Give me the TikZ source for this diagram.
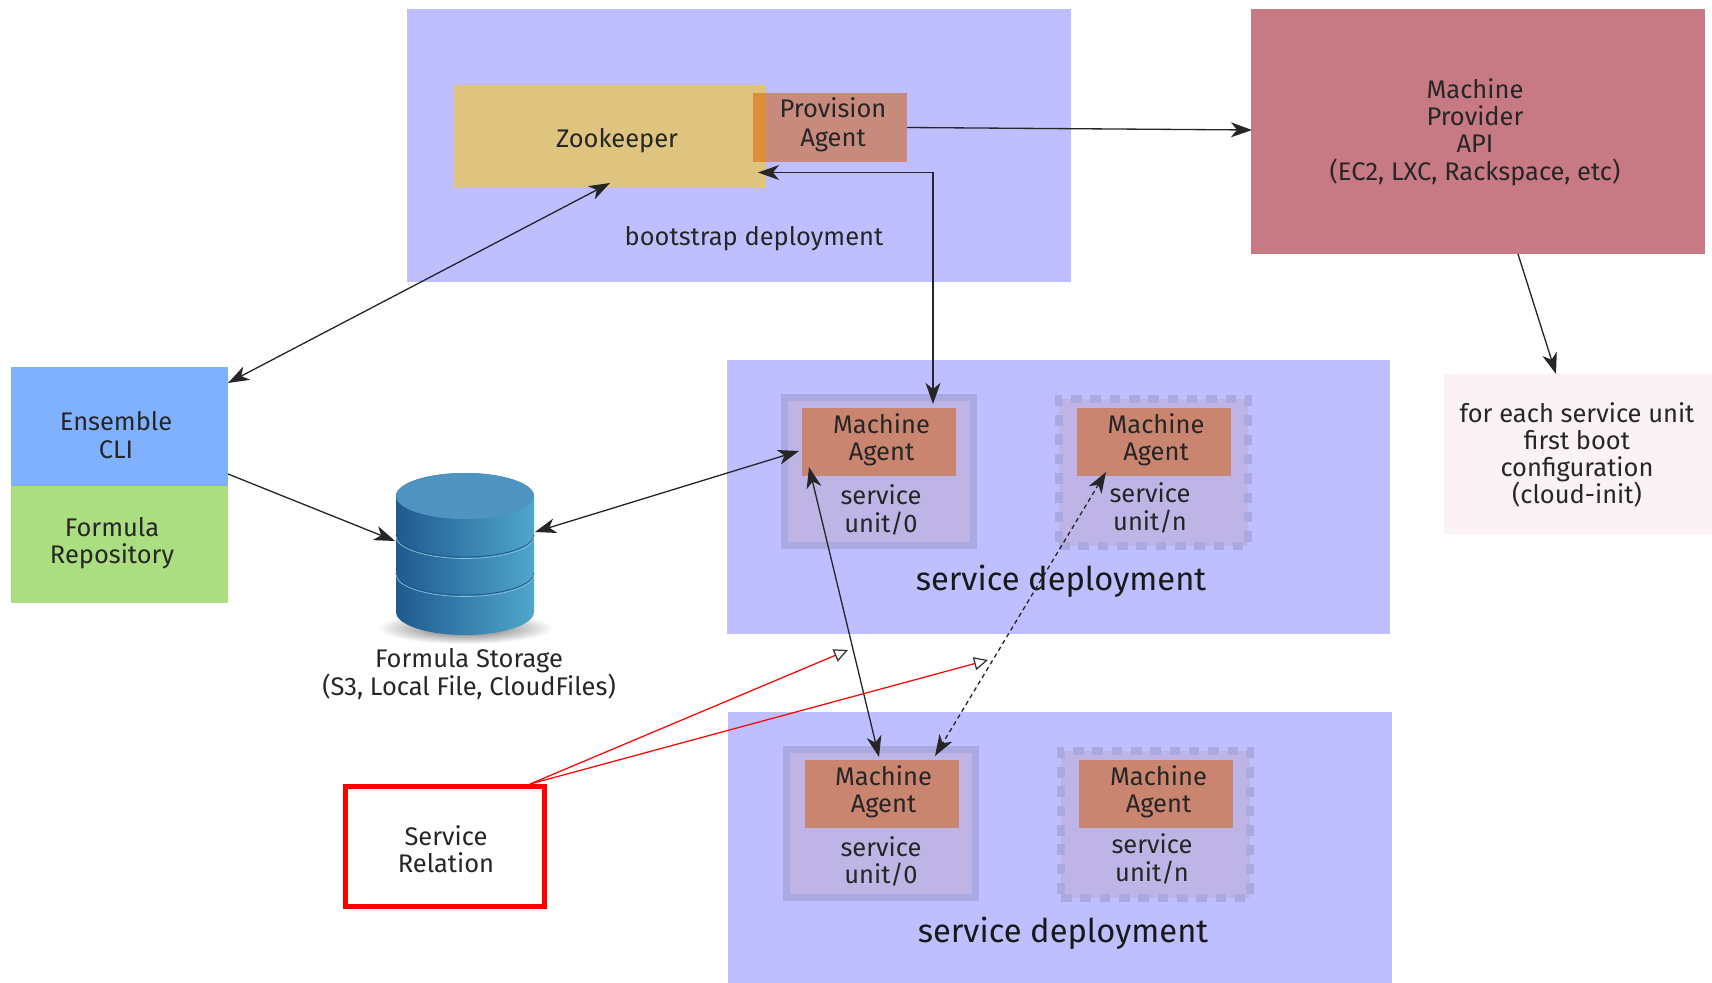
\documentclass[tikz,border=0pt]{standalone}
\usepackage{fontspec}
\setmainfont{Fira Sans}
\usetikzlibrary{arrows.meta}
\definecolor{deploybg}{HTML}{BFBFFF}
\definecolor{zoofill}{HTML}{DFC47F}
\definecolor{provfill}{HTML}{C98A7E}
\definecolor{overlapfill}{HTML}{DC8E3A}
\definecolor{apifill}{HTML}{C87A84}
\definecolor{agentfill}{HTML}{C98570}
\definecolor{unitfill}{HTML}{BEB5E6}
\definecolor{unitedge}{HTML}{ABA9E1}
\definecolor{clifill}{HTML}{80B1FF}
\definecolor{repofill}{HTML}{ABDE80}
\definecolor{bootfill}{HTML}{FAF2F4}
\definecolor{drumdark}{HTML}{1F5A8F}
\definecolor{drumlight}{HTML}{4FA6CB}
\definecolor{drumtop}{HTML}{4F93C0}
\tikzset{
  sizedbox/.style 2 args={inner sep=0pt,outer sep=0pt,minimum width=#1*0.02cm,minimum height=#2*0.02cm},
  tag/.style={align=center,text=black!85,font=\fontsize{14.5}{15.5}\selectfont},
  bigtag/.style={align=center,text=black!90,font=\fontsize{18.6}{21}\selectfont},
  flow/.style={line width=0.75pt,black!85,>={Stealth[length=12pt,width=8.5pt,inset=3.5pt]}},
  relation/.style={line width=0.7pt,red,-{Triangle[open,length=8pt,width=7.5pt,color=black!80,fill=white]}},
  unitsolid/.style={sizedbox={189}{148},draw=unitedge,fill=unitfill,line width=4pt},
  unitdashed/.style={sizedbox={189}{147},draw=unitedge,fill=unitfill,line width=4pt,dash pattern=on 6pt off 5pt}
}
\begin{document}
\begin{tikzpicture}[x=0.02cm,y=-0.02cm]
  \useasboundingbox (0,0) rectangle (1712,983);
  % deployments
  \draw (739,145.5) node[sizedbox={664}{273},fill=deploybg] (bootstrap) {};
  \draw (1058.5,497) node[sizedbox={663}{274},fill=deploybg] (deployone) {};
  \draw (1060,847.5) node[sizedbox={664}{271},fill=deploybg] (deploytwo) {};
  \draw (754,239) node[tag] (bootstraptag) {bootstrap deployment};
  \draw (1061,581) node[bigtag] (deployonetag) {service deployment};
  \draw (1063,933) node[bigtag] (deploytwotag) {service deployment};
  % bootstrap boxes
  \draw (830,127.5) node[sizedbox={154}{69},fill=provfill] (prov) {};
  \draw (610,136.5) node[sizedbox={312}{103},fill=zoofill] (zoo) {};
  \draw (759.5,127.5) node[sizedbox={13}{69},fill=overlapfill] (overlap) {};
  \draw (617,141) node[tag] (zootag) {Zookeeper};
  \draw (833,124.5) node[tag] (provtag) {Provision\\[1pt]Agent};
  \draw (1478,131.5) node[sizedbox={454}{245},fill=apifill] (api) {};
  \draw (1475,132) node[tag] (apitag) {Machine\\Provider\\API\\(EC2, LXC, Rackspace, etc)};
  % units
  \draw (879,471.5) node[unitsolid] (unitone) {};
  \draw (1153.5,472.5) node[unitdashed] (unitn) {};
  \draw (881,510) node[tag] (unitonetag) {service\\unit/0};
  \draw (1150,508) node[tag] (unitntag) {service\\unit/n};
  \draw (879,442) node[sizedbox={154}{68},fill=agentfill] (agentone) {};
  \draw (881.5,439.5) node[tag] (agentonetag) {Machine\\Agent};
  \draw (1153.5,442) node[sizedbox={154}{68},fill=agentfill] (agentn) {};
  \draw (1156,439.5) node[tag] (agentntag) {Machine\\Agent};
  \draw (881,823.5) node[unitsolid] (unittwo) {};
  \draw (1155.5,824.5) node[unitdashed] (unitm) {};
  \draw (881,861.5) node[tag] (unittwotag) {service\\unit/0};
  \draw (1152,859) node[tag] (unitmtag) {service\\unit/n};
  \draw (881.5,794) node[sizedbox={154}{68},fill=agentfill] (agenttwo) {};
  \draw (883.5,791.5) node[tag] (agenttwotag) {Machine\\Agent};
  \draw (1156,794) node[sizedbox={154}{68},fill=agentfill] (agentm) {};
  \draw (1158.5,791.5) node[tag] (agentmtag) {Machine\\Agent};
  % left side
  \draw (119.5,426.5) node[sizedbox={217}{119},fill=clifill] (cli) {};
  \draw (119.5,544.5) node[sizedbox={217}{117},fill=repofill] (repo) {};
  \draw (116,435) node[tag] (clitag) {Ensemble\\CLI};
  \draw (112,543) node[tag] (repotag) {Formula\\Repository};
  \draw (445,846.5) node[sizedbox={199}{120},draw=red,line width=2.3pt,fill=white] (relbox) {};
  \draw (446,849) node[tag] (relboxtag) {Service\\Relation};
  \draw (1578,454) node[sizedbox={268}{160},fill=bootfill] (boot) {};
  \draw (1577,455) node[tag] (boottag) {for each service unit\\first boot\\configuration\\(cloud-init)};
  % storage drum
  \shade[inner color=black!65,outer color=white] (465,628) ellipse (88 and 16);
  \draw (465,554) node[sizedbox={138}{162}] (storage) {};
  \shade[left color=drumdark,right color=drumlight] (396,496) -- (396,612) arc (180:360:69 and -23) -- (534,496) arc (0:180:69 and -23) -- cycle;
  \fill[drumtop] (465,496) ellipse (69 and 23);
  \draw[drumdark,line width=0.5pt] (396,535) arc (180:360:69 and -22);
  \draw[drumlight!70!white,line width=0.4pt] (396,536.5) arc (180:360:69 and -22);
  \draw[drumdark,line width=0.5pt] (396,573) arc (180:360:69 and -22);
  \draw[drumlight!70!white,line width=0.4pt] (396,574.5) arc (180:360:69 and -22);
  \draw (469,674) node[tag] (storagetag) {Formula Storage\\(S3, Local File, CloudFiles)};
  % free ends
  \coordinate (zoolow) at (610,183);
  \coordinate (zoocorner) at (758,172.5);
  \coordinate (provout) at (907,127.5);
  \coordinate (apiin) at (1252,130);
  \coordinate (apiout) at (1518,254);
  \coordinate (bootin) at (1556,374);
  \coordinate (clihigh) at (228,383);
  \coordinate (clilow) at (228,474);
  \coordinate (storageleft) at (395,541);
  \coordinate (storageright) at (535,532);
  \coordinate (agentoneleft) at (799,451);
  \coordinate (agentonelow) at (809,467);
  \coordinate (agentonetop) at (933,404);
  \coordinate (agentnlow) at (1106,472);
  \coordinate (agenttwotop) at (879,757);
  \coordinate (agenttwoside) at (935,756);
  \coordinate (relout) at (530,784);
  \coordinate (relonein) at (848,650);
  \coordinate (reltwoin) at (988,660);
  % connectors
  \path[flow,->] (provout) edge (apiin);
  \path[flow,->] (apiout) edge (bootin);
  \path[flow,<->] (clihigh) edge (zoolow);
  \path[flow,->] (clilow) edge (storageleft);
  \path[flow,<->] (storageright) edge (agentoneleft);
  \draw[flow,<->] (zoocorner) -| (agentonetop);
  \path[flow,<->] (agentonelow) edge (agenttwotop);
  \path[flow,<->,dash pattern=on 2.5pt off 2pt] (agentnlow) edge (agenttwoside);
  \path[relation] (relout) edge (relonein);
  \path[relation] (relout) edge (reltwoin);
\end{tikzpicture}
\end{document}
